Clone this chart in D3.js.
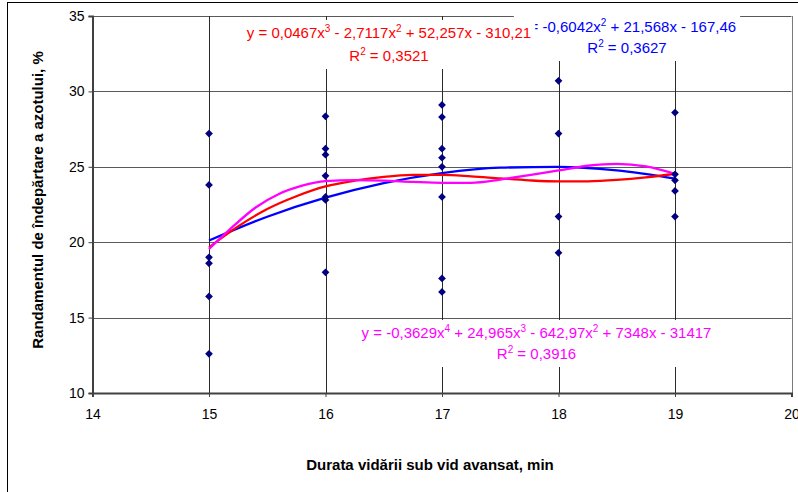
<!DOCTYPE html>
<html>
<head>
<meta charset="utf-8">
<script src="https://cdn.jsdelivr.net/npm/d3@7"></script>
<style>
  body{margin:0;background:#fff;}
  svg text{font-family:"Liberation Sans",Arial,sans-serif;}
</style>
</head>
<body>
<div class="chart_scatter"></div>
<script>
// values
var xTicks = [14, 15, 16, 17, 18, 19, 20];
var yTicks = [10, 15, 20, 25, 30, 35];

var pointX = [15, 15, 15, 15, 15, 15,
              16, 16, 16, 16, 16, 16, 16,
              17, 17, 17, 17, 17, 17, 17, 17,
              18, 18, 18, 18,
              19, 19, 19, 19, 19];
var pointY = [27.2, 23.8, 19.0, 18.6, 16.4, 12.6,
              28.35, 26.2, 25.8, 24.4, 23.0, 22.8, 18.0,
              29.1, 28.3, 26.2, 25.6, 25.0, 23.0, 17.6, 16.7,
              30.7, 27.2, 21.7, 19.3,
              28.6, 24.5, 24.1, 23.4, 21.7];

// trendlines as traced on the picture
var blueX = [15, 15.5, 16, 16.5, 17, 17.5, 18, 18.5, 19];
var blueY = [20.11, 21.69, 22.95, 23.92, 24.58, 24.94, 25.0, 24.76, 24.22];
var redX = [15, 15.25, 15.5, 15.75, 16, 16.25, 16.5, 16.75, 17, 17.25, 17.5, 17.75, 18, 18.25, 18.5, 18.75, 19];
var redY = [19.66, 21.05, 22.2, 23.05, 23.7, 24.08, 24.33, 24.46, 24.47, 24.37, 24.23, 24.1, 24.03, 24.04, 24.13, 24.3, 24.54];
var pinkX = [15, 15.2, 15.4, 15.6, 15.8, 16, 16.25, 16.5, 16.75, 17, 17.25, 17.5, 17.75, 18, 18.25, 18.5, 18.75, 19];
var pinkY = [19.55, 21.0, 22.3, 23.2, 23.75, 24.05, 24.12, 24.08, 24.0, 23.94, 23.94, 24.15, 24.45, 24.76, 25.07, 25.2, 25.03, 24.54];

var xTitle = "Durata vidării sub vid avansat, min";
var yTitle = "Randamentul de îndepărtare a azotului, %";

function mainChart(){
  var W = 798, H = 492;
  var svg = d3.select(".chart_scatter").append("svg")
    .attr("width", W)
    .attr("height", H);

  var xScale = d3.scaleLinear().domain([14, 20]).range([92.5, 791.5]);
  var yScale = d3.scaleLinear().domain([10, 35]).range([393, 16]);

  // outer chart frame (runs off the picture right/bottom)
  svg.append("rect")
    .attr("x", 7.5).attr("y", 2.5)
    .attr("width", 820).attr("height", 520)
    .attr("fill", "#fff")
    .attr("stroke", "#000")
    .attr("stroke-width", 1);

  // gridlines
  svg.append("g").selectAll("line")
    .data(yTicks.slice(1))
    .enter().append("line")
    .attr("x1", xScale(14)).attr("x2", xScale(20))
    .attr("y1", function(d){ return Math.round(yScale(d)) + 0.5; })
    .attr("y2", function(d){ return Math.round(yScale(d)) + 0.5; })
    .attr("stroke", "#5a5a5a")
    .attr("stroke-width", 1);

  svg.append("g").selectAll("line")
    .data(xTicks.slice(1))
    .enter().append("line")
    .attr("x1", function(d){ return Math.round(xScale(d)) + 0.5; })
    .attr("x2", function(d){ return Math.round(xScale(d)) + 0.5; })
    .attr("y1", yScale(35)).attr("y2", yScale(10))
    .attr("stroke", function(d){ return d == 20 ? "#7a7a7a" : "#2a2a2a"; })
    .attr("stroke-width", 1);

  // axes
  var yAxis = svg.append("g")
    .attr("transform", "translate(" + xScale(14) + ",0)")
    .call(d3.axisLeft(yScale).tickValues(yTicks).tickFormat(d3.format("d")).tickSize(4).tickPadding(4));
  var xAxis = svg.append("g")
    .attr("transform", "translate(0," + yScale(10) + ")")
    .call(d3.axisBottom(xScale).tickValues(xTicks).tickFormat(d3.format("d")).tickSize(4).tickPadding(12));

  [xAxis, yAxis].forEach(function(ax){
    ax.select(".domain").attr("stroke", "#404040").attr("stroke-width", 2);
    ax.selectAll(".tick line").attr("stroke", "#404040");
    ax.selectAll(".tick text")
      .attr("fill", "#000")
      .style("font-size", "14px")
      .style("font-family", "'Liberation Sans', Arial, sans-serif");
  });

  // trendlines
  var line = d3.line()
    .x(function(d){ return xScale(d[0]); })
    .y(function(d){ return yScale(d[1]); })
    .curve(d3.curveMonotoneX);

  var curves = [
    {x: blueX, y: blueY, color: "#0000ff"},
    {x: redX, y: redY, color: "#ff0000"},
    {x: pinkX, y: pinkY, color: "#ff00ff"}
  ];
  curves.forEach(function(c){
    svg.append("path")
      .datum(d3.zip(c.x, c.y))
      .attr("fill", "none")
      .attr("stroke", c.color)
      .attr("stroke-width", 2.3)
      .attr("d", line);
  });

  // data points
  var diamond = d3.symbol().type(d3.symbolSquare).size(30);
  svg.append("g").selectAll("path")
    .data(d3.zip(pointX, pointY))
    .enter().append("path")
    .attr("d", diamond)
    .attr("transform", function(d){
      return "translate(" + xScale(d[0]) + "," + yScale(d[1]) + ") rotate(45)";
    })
    .attr("fill", "#000080");

  // equation labels, exponents as raised tspans
  function writeLine(t, parts){
    var shift = 0;
    parts.forEach(function(p){
      if (typeof p == "object") {
        t.append("tspan").attr("dy", -6).style("font-size", "10px").text(p.exp);
        shift = 6;
      } else {
        t.append("tspan").attr("dy", shift).text(p);
        shift = 0;
      }
    });
  }

  function label(cx, y1, y2, color, parts, r2){
    var g = svg.append("g");
    var box = g.append("rect").attr("fill", "#fff");
    var t1 = g.append("text")
      .attr("x", cx).attr("y", y1)
      .attr("text-anchor", "middle")
      .attr("fill", color)
      .style("font-size", "15px");
    writeLine(t1, parts);
    var t2 = g.append("text")
      .attr("x", cx).attr("y", y2)
      .attr("text-anchor", "middle")
      .attr("fill", color)
      .style("font-size", "15px");
    writeLine(t2, ["R", {exp: "2"}, " = " + r2]);
    var b = g.node().getBBox();
    box.attr("x", b.x - 4).attr("y", b.y - 3)
      .attr("width", b.width + 8).attr("height", b.height + 8);
  }

  label(627, 32, 53, "#0000ff",
    ["y = -0,6042x", {exp: "2"}, " + 21,568x - 167,46"], "0,3627");
  label(536.5, 338, 359, "#ff00ff",
    ["y = -0,3629x", {exp: "4"}, " + 24,965x", {exp: "3"}, " - 642,97x", {exp: "2"}, " + 7348x - 31417"], "0,3916");
  label(389, 38, 61, "#ff0000",
    ["y = 0,0467x", {exp: "3"}, " - 2,7117x", {exp: "2"}, " + 52,257x - 310,21"], "0,3521");

  // axis titles
  svg.append("text")
    .attr("x", 430).attr("y", 470)
    .attr("text-anchor", "middle")
    .style("font-size", "15px")
    .style("font-weight", "bold")
    .text(xTitle);

  svg.append("text")
    .attr("transform", "translate(43,200) rotate(-90)")
    .attr("text-anchor", "middle")
    .style("font-size", "15px")
    .style("font-weight", "bold")
    .text(yTitle);
}

mainChart();
</script>
</body>
</html>
